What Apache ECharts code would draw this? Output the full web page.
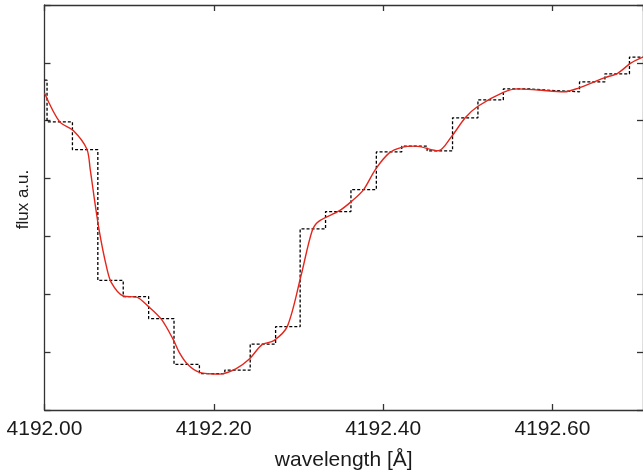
<!DOCTYPE html>
<html>
<head>
<meta charset="utf-8">
<script src="https://cdn.jsdelivr.net/npm/echarts@6/dist/echarts.min.js"></script>
<style>
html,body{margin:0;padding:0;background:#fff;}
#chart{width:643px;height:476px;}
</style>
</head>
<body>
<div id="chart"></div>
<script>
// Binned (histogram) spectrum: bin left edges (Å) and flux per bin (a.u.)
const binEdges = [4192.000, 4192.003, 4192.033, 4192.063, 4192.093, 4192.123, 4192.153, 4192.183, 4192.213, 4192.243, 4192.273, 4192.302, 4192.332, 4192.362, 4192.392, 4192.422, 4192.452, 4192.482, 4192.512, 4192.542, 4192.572, 4192.602, 4192.632, 4192.662, 4192.691, 4192.707];
const binFlux  = [5.70, 4.98, 4.50, 2.24, 1.96, 1.58, 0.79, 0.63, 0.69, 1.14, 1.44, 3.13, 3.43, 3.81, 4.46, 4.56, 4.48, 5.05, 5.36, 5.55, 5.52, 5.50, 5.67, 5.81, 6.10, 6.10];

// Smooth (red) profile
const fitWave = [4192.000, 4192.018, 4192.034, 4192.050, 4192.054, 4192.059, 4192.065, 4192.073, 4192.079, 4192.093, 4192.109, 4192.122, 4192.138, 4192.152, 4192.159, 4192.169, 4192.183, 4192.207, 4192.226, 4192.242, 4192.257, 4192.271, 4192.287, 4192.303, 4192.316, 4192.324, 4192.348, 4192.363, 4192.377, 4192.391, 4192.407, 4192.422, 4192.438, 4192.465, 4192.481, 4192.497, 4192.512, 4192.542, 4192.559, 4192.583, 4192.614, 4192.630, 4192.661, 4192.677, 4192.693, 4192.707];
const fitFlux = [5.48, 4.98, 4.83, 4.51, 4.16, 3.64, 3.07, 2.49, 2.20, 1.97, 1.95, 1.80, 1.57, 1.22, 1.00, 0.79, 0.65, 0.62, 0.71, 0.88, 1.13, 1.20, 1.45, 2.32, 3.09, 3.26, 3.44, 3.61, 3.81, 4.16, 4.44, 4.54, 4.56, 4.48, 4.73, 5.05, 5.25, 5.49, 5.55, 5.53, 5.50, 5.56, 5.74, 5.82, 6.00, 6.10];

// Axis settings
const xMin = 4192.00, xMax = 4192.707, xStep = 0.20;
const yMin = 0, yMax = 7, yStep = 1;
const xTitle = 'wavelength [Å]';
const yTitle = 'flux a.u.';

const FONT = 'Liberation Sans, Arial, Helvetica, sans-serif';
const axisLineStyle = { color: '#333', width: 1.3 };

const chart = echarts.init(document.getElementById('chart'), null, { renderer: 'canvas' });

const xCommon = {
  type: 'value', min: xMin, max: xMax, interval: xStep,
  splitLine: { show: false },
  axisLine: { show: true, onZero: false, lineStyle: axisLineStyle },
  axisTick: { show: true, inside: true, length: 6, lineStyle: axisLineStyle }
};
const yCommon = {
  type: 'value', min: yMin, max: yMax, interval: yStep,
  splitLine: { show: false },
  axisLine: { show: true, onZero: false, lineStyle: axisLineStyle },
  axisTick: { show: true, inside: true, length: 6, lineStyle: axisLineStyle },
  axisLabel: { show: false }
};

chart.setOption({
  animation: false,
  backgroundColor: '#fff',
  grid: { left: 44.5, right: -2, top: 5, bottom: 65, containLabel: false },
  xAxis: [
    Object.assign({}, xCommon, {
      position: 'bottom',
      name: xTitle, nameLocation: 'middle', nameGap: 40,
      nameTextStyle: { fontFamily: FONT, fontSize: 21, color: '#1a1a1a' },
      axisLabel: {
        show: true, margin: 9, showMaxLabel: false,
        fontFamily: FONT, fontSize: 21, color: '#1a1a1a',
        formatter: v => v.toFixed(2)
      }
    }),
    Object.assign({}, xCommon, { position: 'top', axisLabel: { show: false } })
  ],
  yAxis: [
    Object.assign({}, yCommon, {
      position: 'left',
      name: yTitle, nameLocation: 'middle', nameGap: 13,
      nameTextStyle: { fontFamily: FONT, fontSize: 17, color: '#1a1a1a', padding: [0, 0, 0, 16] }
    }),
    Object.assign({}, yCommon, { position: 'right' })
  ],
  series: [
    {
      type: 'line', step: 'end', xAxisIndex: 0, yAxisIndex: 0,
      data: binEdges.map((x, i) => [x, binFlux[i]]),
      showSymbol: false, silent: true,
      lineStyle: { color: '#000', width: 1.3, type: [3, 2] }
    },
    {
      type: 'line', smooth: 0.3, xAxisIndex: 0, yAxisIndex: 0,
      data: fitWave.map((x, i) => [x, fitFlux[i]]),
      showSymbol: false, silent: true,
      lineStyle: { color: '#e3261c', width: 1.4 }
    }
  ]
});
</script>
</body>
</html>
